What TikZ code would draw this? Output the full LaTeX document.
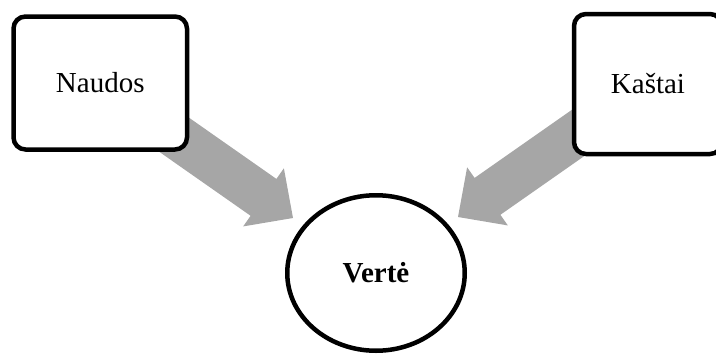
\documentclass[tikz,border=0pt]{standalone}
\usepackage{fontspec}
\setmainfont{Liberation Serif}
\usetikzlibrary{calc,shapes.geometric,backgrounds}
\definecolor{arrowgray}{RGB}{166,166,166}
\begin{document}
\begin{tikzpicture}[x=1pt,y=-1pt,
  every node/.style={font=\fontsize{29}{35}\selectfont},
  box/.style={draw=black, line width=4.5pt, rounded corners=12pt, fill=white, inner sep=0pt},
  valnode/.style={ellipse, draw=black, line width=4.5pt, fill=white, inner sep=0pt,
    font=\fontsize{29}{35}\selectfont\bfseries},
  blockarrow/.style={fill=arrowgray, draw=none}]
\useasboundingbox (0,0) rectangle (716,354);
\clip (0,0) rectangle (716,354);

\node[box, minimum width=173.5pt, minimum height=133pt] (naudos) at (100.25,83) {Naudos};
\node[box, minimum width=148pt, minimum height=140pt] (kastai) at (648,84) {Kaštai};
\node[valnode, minimum width=177.5pt, minimum height=155.5pt] (verte) at (376,273) {Vertė};

\coordinate (tipL) at (293,218);
\coordinate (tipR) at (458,217);
\coordinate (headL) at ($(tipL)!36pt!(naudos.center)$);
\coordinate (headR) at ($(tipR)!36pt!(kastai.center)$);

\begin{scope}[on background layer]
\fill[blockarrow]
  ($(naudos.center)!22.5pt!90:(tipL)$) --
  ($(headL)!22.5pt!-90:(naudos.center)$) --
  ($(headL)!35.5pt!-90:(naudos.center)$) --
  (tipL) --
  ($(headL)!35.5pt!90:(naudos.center)$) --
  ($(headL)!22.5pt!90:(naudos.center)$) --
  ($(naudos.center)!22.5pt!-90:(tipL)$) -- cycle;
\fill[blockarrow]
  ($(kastai.center)!22.5pt!90:(tipR)$) --
  ($(headR)!22.5pt!-90:(kastai.center)$) --
  ($(headR)!35.5pt!-90:(kastai.center)$) --
  (tipR) --
  ($(headR)!35.5pt!90:(kastai.center)$) --
  ($(headR)!22.5pt!90:(kastai.center)$) --
  ($(kastai.center)!22.5pt!-90:(tipR)$) -- cycle;
\end{scope}
\end{tikzpicture}
\end{document}
